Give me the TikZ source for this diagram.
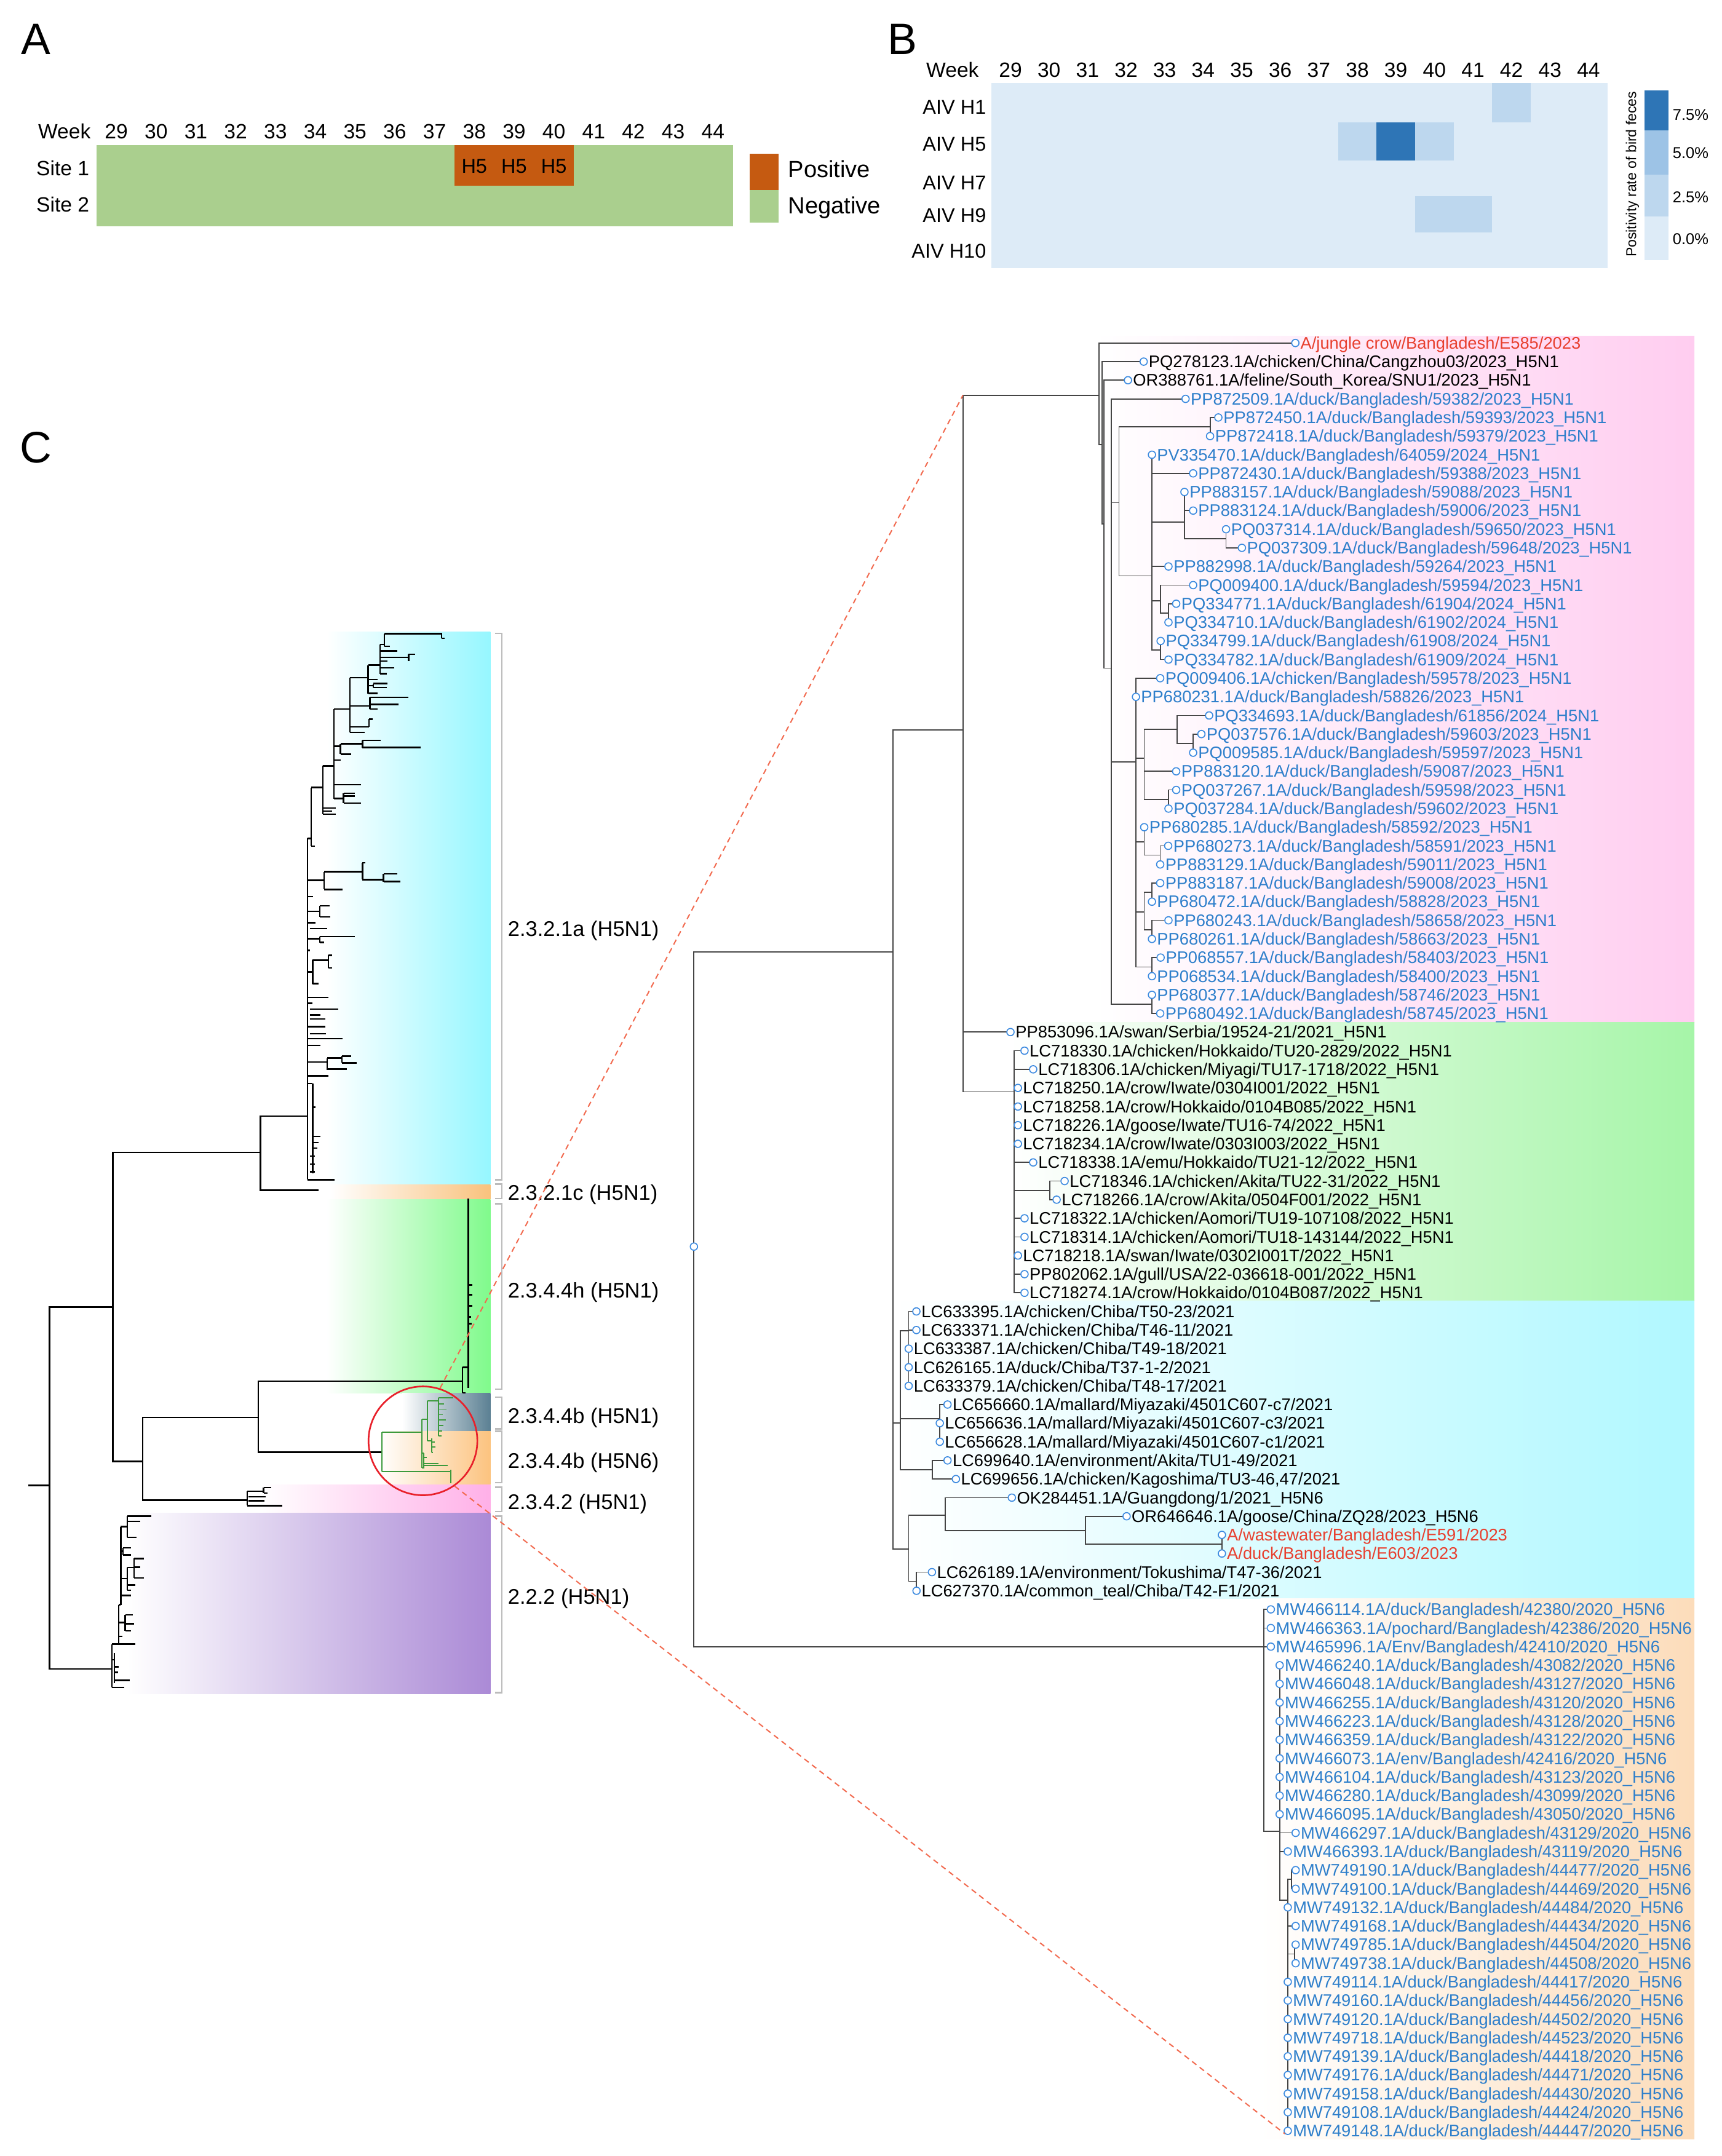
\documentclass[tikz,border=0pt]{standalone}
\usepackage{fontspec}
\setmainfont{Liberation Sans}
\usetikzlibrary{calc}
\pgfdeclarelayer{bands}
\pgfdeclarelayer{edges}
\pgfsetlayers{bands,edges,main}
\definecolor{treeg}{HTML}{454545}
\definecolor{circb}{HTML}{3D8BE0}
\definecolor{labb}{HTML}{2E7FCB}
\definecolor{labr}{HTML}{E8402F}
\definecolor{gtree}{HTML}{3C9A3C}
\definecolor{redc}{HTML}{E8202A}
\definecolor{dashc}{HTML}{F26A4F}
\definecolor{agreen}{HTML}{AACF8E}
\definecolor{aorange}{HTML}{C55A11}
\definecolor{bzero}{HTML}{DDEBF7}
\definecolor{btwo}{HTML}{BDD7EE}
\definecolor{bthree}{HTML}{9DC3E6}
\definecolor{bfour}{HTML}{2E75B6}
\definecolor{cyanL}{HTML}{96F7FF}
\definecolor{orangeL}{HTML}{F9C27D}
\definecolor{greenL}{HTML}{80FA8C}
\definecolor{slateL}{HTML}{5B8093}
\definecolor{orangeLb}{HTML}{FCC37F}
\definecolor{pinkL}{HTML}{FFB0E8}
\definecolor{purpleL}{HTML}{AB8AD6}
\definecolor{pinkR}{HTML}{FFCDF0}
\definecolor{greenR}{HTML}{A6F5A8}
\definecolor{cyanR}{HTML}{B0F8FF}
\definecolor{orangeR}{HTML}{FCDCBA}
\definecolor{brkc}{HTML}{BBBBBB}
\newcommand\labfont{\fontsize{12.2}{14}\selectfont}
\newcommand\setfs[1]{\fontsize{#1}{#1}\selectfont}
\newcommand\LF[4]{%
  \coordinate (l#1) at (#2,{249+(#1-1)*13.52});
  \node[leafc] (c#1) at (l#1) {};
  \node[#3, anchor=base west, xshift=0.5pt, yshift=-4.3pt] (t#1) at (c#1.east) {#4};}
\newcommand\ED[2]{\foreach \cc in {#2}{\draw[br] (#1) |- (\cc);}}
\newcommand\HS[3]{\draw (#1,#3) -- (#2,#3);}
\newcommand\VS[3]{\draw (#1,#2) -- (#1,#3);}
\begin{document}
\begin{tikzpicture}[x=1pt,y=-1pt,
  br/.style={draw=treeg, line width=0.8pt},
  lt/.style={draw=black, line width=1.1pt},
  gt/.style={draw=gtree, line width=0.85pt},
  leafc/.style={circle, draw=circb, fill=white, line width=0.75pt, inner sep=0pt, minimum size=5.3pt},
  bl/.style={text=labb, font=\labfont, inner sep=0pt},
  kl/.style={text=black, font=\labfont, inner sep=0pt},
  rl/.style={text=labr, font=\labfont, inner sep=0pt},
  plab/.style={font=\setfs{32}, inner sep=0pt},
  wk/.style={font=\setfs{15}, inner sep=0pt},
  lgd/.style={font=\setfs{17}, inner sep=0pt},
  pct/.style={font=\setfs{11.4}, inner sep=0pt},
  cl/.style={font=\setfs{15.4}, inner sep=0pt, anchor=base west},
  brk/.style={draw=brkc, line width=1.1pt},
  dsh/.style={draw=dashc, line width=0.9pt, dash pattern=on 4pt off 3pt}]
\useasboundingbox (0,0) rectangle (1250,1565.2);
\begin{pgfonlayer}{bands}
\fill[white] (0,0) rectangle (1250,1565.2);
% right bands
\shade[left color=white, right color=pinkR] (795,244) rectangle (1230,742);
\shade[left color=white, right color=greenR] (733,742) rectangle (1230,944.5);
\shade[left color=white, right color=cyanR] (650,944.5) rectangle (1230,1160.5);
\shade[left color=white, right color=orangeR] (915,1160.5) rectangle (1230,1553);
% left bands
\shade[left color=white, right color=cyanL] (237,458.5) rectangle (356,860);
\shade[left color=white, right color=orangeL] (240,860) rectangle (356,870.6);
\shade[left color=white, right color=greenL] (237,870.6) rectangle (356,1011.6);
\shade[left color=white, right color=slateL] (292,1011.6) rectangle (356,1039);
\shade[left color=white, right color=orangeLb] (275,1039) rectangle (356,1078);
\shade[left color=white, right color=pinkL] (190,1078) rectangle (356,1098.5);
\shade[left color=white, right color=purpleL] (92,1098.5) rectangle (356,1229.6);
\end{pgfonlayer}

% ---------------- Panel A ----------------
\node[plab] (pA) at (26,28.7) {A};
\node[wk, anchor=base east] (aweek) at (66,100.6) {Week};
\foreach \k in {0,...,15} {\pgfmathtruncatemacro\wkn{29+\k}
  \node[wk, anchor=base] (aw\k) at ({84.44+28.875*\k},100.6) {\wkn};}
\fill[agreen] (70,105.4) rectangle (532,164.4);
\fill[aorange] (329.9,105.4) rectangle (416.5,135);
\foreach \k in {9,10,11} {\node[wk, font=\setfs{14.5}, anchor=base] (ah\k) at ({84.44+28.875*\k},125.7) {H5};}
\node[wk, anchor=base east] (as1) at (65,127.4) {Site 1};
\node[wk, anchor=base east] (as2) at (65,153.6) {Site 2};
\fill[aorange] (544,111.8) rectangle (565,138);
\fill[agreen] (544,138) rectangle (565,161.4);
\node[lgd, anchor=base west] (apos) at (572,128.6) {Positive};
\node[lgd, anchor=base west] (aneg) at (572,155.1) {Negative};

% ---------------- Panel B ----------------
\node[plab] (pB) at (655,28.5) {B};
\node[wk, anchor=base east] (bweek) at (710.7,56) {Week};
\foreach \k in {0,...,15} {\pgfmathtruncatemacro\wkn{29+\k}
  \node[wk, anchor=base] (bw\k) at ({733.5+27.975*\k},56) {\wkn};}
\fill[bzero] (719.5,60.3) rectangle (1167.1,194.6);
\fill[btwo] (1083.2,60.3) rectangle (1111.2,88.9);
\fill[btwo] (971.3,88.9) rectangle (999.3,116.4);
\fill[bfour] (999.3,88.9) rectangle (1027.2,116.4);
\fill[btwo] (1027.2,88.9) rectangle (1055.2,116.4);
\fill[btwo] (1027.2,142.4) rectangle (1083.2,168.9);
\node[wk, font=\setfs{14.5}, anchor=base east] (bh1) at (716,82.6) {AIV H1};
\node[wk, font=\setfs{14.5}, anchor=base east] (bh5) at (716,109.4) {AIV H5};
\node[wk, font=\setfs{14.5}, anchor=base east] (bh7) at (716,137.6) {AIV H7};
\node[wk, font=\setfs{14.5}, anchor=base east] (bh9) at (716,161.4) {AIV H9};
\node[wk, font=\setfs{14.5}, anchor=base east] (bh10) at (716,187.5) {AIV H10};
\fill[bfour] (1193.8,65.5) rectangle (1211,94.8);
\fill[bthree] (1193.8,94.8) rectangle (1211,126.8);
\fill[btwo] (1193.8,126.8) rectangle (1211,157.3);
\fill[bzero] (1193.8,157.3) rectangle (1211,188.7);
\node[pct, anchor=base west] (p75) at (1214,87.1) {7.5\%};
\node[pct, anchor=base west] (p50) at (1214,115) {5.0\%};
\node[pct, anchor=base west] (p25) at (1214,146.9) {2.5\%};
\node[pct, anchor=base west] (p00) at (1214,177.5) {0.0\%};
\node[font=\setfs{10.3}, inner sep=0pt, rotate=90] (bleg) at (1185,126.5) {Positivity rate of bird feces};

% ---------------- Panel C ----------------
\node[plab] (pC) at (26,325) {C};

% ---- right tree leaves ----
\LF{1}{940.3}{rl}{A/jungle crow/Bangladesh/E585/2023}
\LF{2}{830.2}{kl}{PQ278123.1A/chicken/China/Cangzhou03/2023\_H5N1}
\LF{3}{818.8}{kl}{OR388761.1A/feline/South\_Korea/SNU1/2023\_H5N1}
\LF{4}{860.6}{bl}{PP872509.1A/duck/Bangladesh/59382/2023\_H5N1}
\LF{5}{884.4}{bl}{PP872450.1A/duck/Bangladesh/59393/2023\_H5N1}
\LF{6}{878.4}{bl}{PP872418.1A/duck/Bangladesh/59379/2023\_H5N1}
\LF{7}{836.2}{bl}{PV335470.1A/duck/Bangladesh/64059/2024\_H5N1}
\LF{8}{866.1}{bl}{PP872430.1A/duck/Bangladesh/59388/2023\_H5N1}
\LF{9}{859.8}{bl}{PP883157.1A/duck/Bangladesh/59088/2023\_H5N1}
\LF{10}{866.1}{bl}{PP883124.1A/duck/Bangladesh/59006/2023\_H5N1}
\LF{11}{890.0}{bl}{PQ037314.1A/duck/Bangladesh/59650/2023\_H5N1}
\LF{12}{901.5}{bl}{PQ037309.1A/duck/Bangladesh/59648/2023\_H5N1}
\LF{13}{848.2}{bl}{PP882998.1A/duck/Bangladesh/59264/2023\_H5N1}
\LF{14}{866.1}{bl}{PQ009400.1A/duck/Bangladesh/59594/2023\_H5N1}
\LF{15}{853.8}{bl}{PQ334771.1A/duck/Bangladesh/61904/2024\_H5N1}
\LF{16}{848.2}{bl}{PQ334710.1A/duck/Bangladesh/61902/2024\_H5N1}
\LF{17}{842.5}{bl}{PQ334799.1A/duck/Bangladesh/61908/2024\_H5N1}
\LF{18}{848.2}{bl}{PQ334782.1A/duck/Bangladesh/61909/2024\_H5N1}
\LF{19}{842.2}{bl}{PQ009406.1A/chicken/Bangladesh/59578/2023\_H5N1}
\LF{20}{824.6}{bl}{PP680231.1A/duck/Bangladesh/58826/2023\_H5N1}
\LF{21}{877.7}{bl}{PQ334693.1A/duck/Bangladesh/61856/2024\_H5N1}
\LF{22}{872.1}{bl}{PQ037576.1A/duck/Bangladesh/59603/2023\_H5N1}
\LF{23}{866.1}{bl}{PQ009585.1A/duck/Bangladesh/59597/2023\_H5N1}
\LF{24}{853.8}{bl}{PP883120.1A/duck/Bangladesh/59087/2023\_H5N1}
\LF{25}{853.8}{bl}{PQ037267.1A/duck/Bangladesh/59598/2023\_H5N1}
\LF{26}{848.2}{bl}{PQ037284.1A/duck/Bangladesh/59602/2023\_H5N1}
\LF{27}{830.6}{bl}{PP680285.1A/duck/Bangladesh/58592/2023\_H5N1}
\LF{28}{848.0}{bl}{PP680273.1A/duck/Bangladesh/58591/2023\_H5N1}
\LF{29}{842.2}{bl}{PP883129.1A/duck/Bangladesh/59011/2023\_H5N1}
\LF{30}{842.2}{bl}{PP883187.1A/duck/Bangladesh/59008/2023\_H5N1}
\LF{31}{836.2}{bl}{PP680472.1A/duck/Bangladesh/58828/2023\_H5N1}
\LF{32}{848.2}{bl}{PP680243.1A/duck/Bangladesh/58658/2023\_H5N1}
\LF{33}{836.2}{bl}{PP680261.1A/duck/Bangladesh/58663/2023\_H5N1}
\LF{34}{842.5}{bl}{PP068557.1A/duck/Bangladesh/58403/2023\_H5N1}
\LF{35}{836.2}{bl}{PP068534.1A/duck/Bangladesh/58400/2023\_H5N1}
\LF{36}{836.2}{bl}{PP680377.1A/duck/Bangladesh/58746/2023\_H5N1}
\LF{37}{842.2}{bl}{PP680492.1A/duck/Bangladesh/58745/2023\_H5N1}
\LF{38}{733.5}{kl}{PP853096.1A/swan/Serbia/19524-21/2021\_H5N1}
\LF{39}{743.7}{kl}{LC718330.1A/chicken/Hokkaido/TU20-2829/2022\_H5N1}
\LF{40}{750.0}{kl}{LC718306.1A/chicken/Miyagi/TU17-1718/2022\_H5N1}
\LF{41}{738.9}{kl}{LC718250.1A/crow/Iwate/0304I001/2022\_H5N1}
\LF{42}{738.9}{kl}{LC718258.1A/crow/Hokkaido/0104B085/2022\_H5N1}
\LF{43}{738.9}{kl}{LC718226.1A/goose/Iwate/TU16-74/2022\_H5N1}
\LF{44}{738.9}{kl}{LC718234.1A/crow/Iwate/0303I003/2022\_H5N1}
\LF{45}{750.0}{kl}{LC718338.1A/emu/Hokkaido/TU21-12/2022\_H5N1}
\LF{46}{772.8}{kl}{LC718346.1A/chicken/Akita/TU22-31/2022\_H5N1}
\LF{47}{767.0}{kl}{LC718266.1A/crow/Akita/0504F001/2022\_H5N1}
\LF{48}{743.7}{kl}{LC718322.1A/chicken/Aomori/TU19-107108/2022\_H5N1}
\LF{49}{743.7}{kl}{LC718314.1A/chicken/Aomori/TU18-143144/2022\_H5N1}
\LF{50}{738.9}{kl}{LC718218.1A/swan/Iwate/0302I001T/2022\_H5N1}
\LF{51}{743.7}{kl}{PP802062.1A/gull/USA/22-036618-001/2022\_H5N1}
\LF{52}{743.7}{kl}{LC718274.1A/crow/Hokkaido/0104B087/2022\_H5N1}
\LF{53}{665.2}{kl}{LC633395.1A/chicken/Chiba/T50-23/2021}
\LF{54}{665.2}{kl}{LC633371.1A/chicken/Chiba/T46-11/2021}
\LF{55}{659.6}{kl}{LC633387.1A/chicken/Chiba/T49-18/2021}
\LF{56}{659.6}{kl}{LC626165.1A/duck/Chiba/T37-1-2/2021}
\LF{57}{659.6}{kl}{LC633379.1A/chicken/Chiba/T48-17/2021}
\LF{58}{687.8}{kl}{LC656660.1A/mallard/Miyazaki/4501C607-c7/2021}
\LF{59}{682.2}{kl}{LC656636.1A/mallard/Miyazaki/4501C607-c3/2021}
\LF{60}{682.2}{kl}{LC656628.1A/mallard/Miyazaki/4501C607-c1/2021}
\LF{61}{687.8}{kl}{LC699640.1A/environment/Akita/TU1-49/2021}
\LF{62}{693.9}{kl}{LC699656.1A/chicken/Kagoshima/TU3-46,47/2021}
\LF{63}{734.5}{kl}{OK284451.1A/Guangdong/1/2021\_H5N6}
\LF{64}{817.8}{kl}{OR646646.1A/goose/China/ZQ28/2023\_H5N6}
\LF{65}{887.0}{rl}{A/wastewater/Bangladesh/E591/2023}
\LF{66}{887.0}{rl}{A/duck/Bangladesh/E603/2023}
\LF{67}{676.5}{kl}{LC626189.1A/environment/Tokushima/T47-36/2021}
\LF{68}{665.3}{kl}{LC627370.1A/common\_teal/Chiba/T42-F1/2021}
\LF{69}{922.5}{bl}{MW466114.1A/duck/Bangladesh/42380/2020\_H5N6}
\LF{70}{922.5}{bl}{MW466363.1A/pochard/Bangladesh/42386/2020\_H5N6}
\LF{71}{922.5}{bl}{MW465996.1A/Env/Bangladesh/42410/2020\_H5N6}
\LF{72}{928.9}{bl}{MW466240.1A/duck/Bangladesh/43082/2020\_H5N6}
\LF{73}{928.9}{bl}{MW466048.1A/duck/Bangladesh/43127/2020\_H5N6}
\LF{74}{928.9}{bl}{MW466255.1A/duck/Bangladesh/43120/2020\_H5N6}
\LF{75}{928.9}{bl}{MW466223.1A/duck/Bangladesh/43128/2020\_H5N6}
\LF{76}{928.9}{bl}{MW466359.1A/duck/Bangladesh/43122/2020\_H5N6}
\LF{77}{928.9}{bl}{MW466073.1A/env/Bangladesh/42416/2020\_H5N6}
\LF{78}{928.9}{bl}{MW466104.1A/duck/Bangladesh/43123/2020\_H5N6}
\LF{79}{928.9}{bl}{MW466280.1A/duck/Bangladesh/43099/2020\_H5N6}
\LF{80}{928.9}{bl}{MW466095.1A/duck/Bangladesh/43050/2020\_H5N6}
\LF{81}{940.5}{bl}{MW466297.1A/duck/Bangladesh/43129/2020\_H5N6}
\LF{82}{934.8}{bl}{MW466393.1A/duck/Bangladesh/43119/2020\_H5N6}
\LF{83}{940.5}{bl}{MW749190.1A/duck/Bangladesh/44477/2020\_H5N6}
\LF{84}{940.5}{bl}{MW749100.1A/duck/Bangladesh/44469/2020\_H5N6}
\LF{85}{934.8}{bl}{MW749132.1A/duck/Bangladesh/44484/2020\_H5N6}
\LF{86}{940.5}{bl}{MW749168.1A/duck/Bangladesh/44434/2020\_H5N6}
\LF{87}{940.5}{bl}{MW749785.1A/duck/Bangladesh/44504/2020\_H5N6}
\LF{88}{940.5}{bl}{MW749738.1A/duck/Bangladesh/44508/2020\_H5N6}
\LF{89}{934.8}{bl}{MW749114.1A/duck/Bangladesh/44417/2020\_H5N6}
\LF{90}{934.8}{bl}{MW749160.1A/duck/Bangladesh/44456/2020\_H5N6}
\LF{91}{934.8}{bl}{MW749120.1A/duck/Bangladesh/44502/2020\_H5N6}
\LF{92}{934.8}{bl}{MW749718.1A/duck/Bangladesh/44523/2020\_H5N6}
\LF{93}{934.8}{bl}{MW749139.1A/duck/Bangladesh/44418/2020\_H5N6}
\LF{94}{934.8}{bl}{MW749176.1A/duck/Bangladesh/44471/2020\_H5N6}
\LF{95}{934.8}{bl}{MW749158.1A/duck/Bangladesh/44430/2020\_H5N6}
\LF{96}{934.8}{bl}{MW749108.1A/duck/Bangladesh/44424/2020\_H5N6}
\LF{97}{934.8}{bl}{MW749148.1A/duck/Bangladesh/44447/2020\_H5N6}

% ---- right tree internal nodes ----
\coordinate (R0) at (503.7,905);
\coordinate (M1) at (648.3,691);
\coordinate (N1) at (699,529.8);
\coordinate (P0) at (797.8,286.9);
\coordinate (P1) at (800,322.8);
\coordinate (P1b) at (801.5,380.5);
\coordinate (P2) at (806.8,485);
\coordinate (Q) at (812.3,365);
\coordinate (Q1) at (878.4,309.9);
\coordinate (Q2) at (836.2,418.1);
\coordinate (S1) at (859.8,379);
\coordinate (S1a) at (890,391);
\coordinate (S2) at (842.5,436);
\coordinate (S2a) at (848.2,445);
\coordinate (S3) at (842.5,472);
\coordinate (Rn) at (824.6,553);
\coordinate (R1) at (830.6,550.6);
\coordinate (R1a) at (854.4,529.5);
\coordinate (R1b) at (866.1,539.7);
\coordinate (R1c) at (848.2,580.3);
\coordinate (R2) at (830.6,611);
\coordinate (R2a) at (842.2,620.8);
\coordinate (R3) at (830.6,662);
\coordinate (R3a) at (836.2,647.9);
\coordinate (R3b) at (836.2,674.9);
\coordinate (R4) at (836.2,702);
\coordinate (Tn) at (836.2,729);
\coordinate (G0) at (736,792.6);
\coordinate (G1) at (762.1,864.2);
\coordinate (C1) at (653.5,1033.2);
\coordinate (CH) at (659.6,966);
\coordinate (L66) at (682.2,1030);
\coordinate (L69) at (676.7,1067);
\coordinate (C2) at (659.6,1124.4);
\coordinate (E1) at (686.1,1100);
\coordinate (E2) at (665.3,1148);
\coordinate (E3) at (787.8,1111.1);
\coordinate (E4) at (887,1121);
\coordinate (H0) at (917.4,1195.5);
\coordinate (H1) at (928.9,1329.5);
\coordinate (H2) at (934.8,1379.5);
\coordinate (H2a) at (937.4,1364.4);
\coordinate (H2b) at (939.9,1418.5);
\node[leafc] (rootc) at (R0) {};

% ---- left tree coordinates ----
\coordinate (LS) at (20.7,1078.3);
\coordinate (LR) at (36,1078.3);
\coordinate (LA) at (82,948.9);
\coordinate (LF) at (81.3,1211.6);
\coordinate (LB) at (189.1,836.5);
\coordinate (LB1) at (223.2,810.3);
\coordinate (LBc) at (231.2,864.1);
\coordinate (LC) at (103.6,1060.9);
\coordinate (LD) at (187.5,1028.9);
\coordinate (LE) at (179.5,1089.1);
\coordinate (LH) at (335.6,1002.7);
\coordinate (LG) at (277.2,1054.3);

\begin{pgfonlayer}{edges}
\ED{R0}{M1,H0}
\ED{M1}{N1,C1,C2}
\ED{N1}{P0,l38,G0}
\ED{P0}{l1,P1}
\ED{P1}{l2,P1b}
\ED{P1b}{l3,P2}
\ED{P2}{l4,Q,Rn,Tn}
\ED{Q}{Q1,Q2}
\ED{Q1}{l5,l6}
\ED{Q2}{l7,l8,S1,l13,S2,S3}
\ED{S1}{l9,l10,S1a}
\ED{S1a}{l11,l12}
\ED{S2}{l14,S2a}
\ED{S2a}{l15,l16}
\ED{S3}{l17,l18}
\ED{Rn}{l19,l20,R1,R2,R3,R4}
\ED{R1}{R1a,l24,R1c}
\ED{R1a}{l21,R1b}
\ED{R1b}{l22,l23}
\ED{R1c}{l25,l26}
\ED{R2}{l27,R2a}
\ED{R2a}{l28,l29}
\ED{R3}{R3a,R3b}
\ED{R3a}{l30,l31}
\ED{R3b}{l32,l33}
\ED{R4}{l34,l35}
\ED{Tn}{l36,l37}
\ED{G0}{l39,l40,l41,l42,l43,l44,l45,G1,l48,l49,l50,l51,l52}
\ED{G1}{l46,l47}
\ED{C1}{CH,L66,L69}
\ED{CH}{l53,l54,l55,l56,l57}
\ED{L66}{l58,l59,l60}
\ED{L69}{l61,l62}
\ED{C2}{E1,E2}
\ED{E1}{l63,E3}
\ED{E3}{l64,E4}
\ED{E4}{l65,l66}
\ED{E2}{l67,l68}
\ED{H0}{l69,l70,l71,H1}
\ED{H1}{l72,l73,l74,l75,l76,l77,l78,l79,l80,l81,l82,H2}
\ED{H2}{H2a,l85,l86,H2b,l89,l90,l91,l92,l93,l94,l95,l96,l97}
\ED{H2a}{l83,l84}
\ED{H2b}{l87,l88}
% ---- left tree backbone ----
\begin{scope}[lt]
\draw (LS) -- (LR);
\draw (LR) |- (LA); \draw (LR) |- (LF);
\draw (LA) |- (LB); \draw (LA) |- (LC);
\draw (LB) |- (LB1); \draw (LB) |- (LBc);
\draw (LC) |- (LD); \draw (LC) |- (LE);
\draw (LD) |- (LH); \draw (LD) |- (LG);
% 2.3.2.1a
\VS{223.2}{608.7}{856.4}
\HS{223.2}{225.8}{608.7}
\VS{225.8}{571.7}{614.4}
\HS{225.8}{234.4}{571.7}
\HS{225.8}{228.5}{614.4}
\VS{234.4}{556.0}{591.1}
\HS{234.4}{242.3}{556.0}
\HS{234.4}{243.9}{586.5}
\HS{234.4}{241.0}{588.8}
\HS{234.4}{243.9}{591.1}
\VS{242.3}{514.8}{579.7}
\HS{242.3}{254.1}{514.8}
\HS{242.3}{262.1}{569.7}
\HS{242.3}{247.1}{541.8}
\VS{247.1}{540.0}{547.5}
\HS{247.1}{263.1}{540.0}
\VS{263.1}{537.5}{542.7}
\HS{263.1}{276.5}{537.5}
\HS{263.1}{305.5}{542.7}
\HS{247.1}{255.1}{547.5}
\HS{242.3}{247.1}{551.8}
\HS{242.3}{249.4}{579.7}
\VS{249.4}{576.0}{583.1}
\HS{249.4}{257.7}{576.0}
\HS{249.4}{257.7}{578.0}
\HS{249.4}{262.1}{583.1}
\VS{254.1}{492.0}{531.8}
\HS{254.1}{264.7}{531.8}
\HS{254.1}{267.9}{527.6}
\VS{267.9}{522.0}{527.6}
\HS{267.9}{270.5}{522.0}
\HS{254.1}{268.5}{512.5}
\VS{268.5}{506.2}{514.8}
\HS{268.5}{296.6}{506.2}
\HS{268.5}{289.5}{511.3}
\HS{268.5}{274.2}{514.8}
\HS{254.1}{267.2}{492.0}
\VS{267.2}{482.9}{503.4}
\HS{267.2}{275.8}{482.9}
\HS{267.2}{274.2}{493.4}
\HS{267.2}{271.0}{497.7}
\VS{271.0}{496.3}{499.1}
\HS{271.0}{281.3}{496.3}
\HS{271.0}{280.6}{499.1}
\HS{267.2}{274.2}{503.4}
\VS{275.8}{467.8}{489.1}
\HS{275.8}{279.0}{467.8}
\VS{279.0}{460.1}{469.2}
\HS{279.0}{320.5}{460.1}
\VS{320.5}{459.5}{463.5}
\HS{320.5}{322.7}{463.5}
\HS{279.0}{283.0}{469.2}
\HS{275.8}{288.6}{472.6}
\HS{275.8}{296.6}{477.2}
\VS{296.6}{474.9}{480.0}
\HS{296.6}{301.3}{474.9}
\HS{275.8}{281.3}{480.0}
\HS{275.8}{286.0}{484.9}
\HS{275.8}{280.6}{489.1}
\HS{223.2}{235.3}{639.0}
\VS{235.3}{632.9}{645.7}
\HS{235.3}{263.1}{632.9}
\VS{263.1}{626.4}{638.6}
\HS{263.1}{265.0}{626.4}
\HS{263.1}{278.4}{638.6}
\VS{278.4}{634.3}{640.0}
\HS{278.4}{288.6}{634.3}
\HS{278.4}{290.8}{640.0}
\HS{235.3}{248.7}{645.7}
\HS{223.2}{227.4}{650.9}
\HS{223.2}{232.1}{661.5}
\VS{232.1}{657.7}{665.7}
\HS{232.1}{239.2}{657.7}
\HS{232.1}{239.8}{665.7}
\HS{223.2}{229.0}{669.9}
\HS{224.8}{237.6}{674.2}
\HS{223.2}{232.1}{681.5}
\VS{232.1}{679.9}{684.2}
\HS{232.1}{257.7}{679.9}
\HS{232.1}{235.3}{684.2}
\HS{223.2}{224.8}{689.9}
\HS{223.2}{227.0}{705.5}
\VS{227.0}{697.0}{714.1}
\HS{227.0}{238.5}{697.0}
\VS{238.5}{693.5}{702.7}
\HS{238.5}{241.0}{693.5}
\HS{238.5}{241.0}{702.7}
\HS{227.0}{231.2}{714.1}
\HS{223.2}{238.5}{724.0}
\HS{223.2}{227.0}{728.3}
\HS{224.8}{245.5}{732.6}
\HS{224.8}{232.8}{736.8}
\HS{224.8}{236.0}{739.7}
\HS{223.2}{236.0}{745.4}
\HS{224.8}{236.6}{750.5}
\HS{223.2}{248.7}{753.9}
\HS{223.2}{232.8}{759.0}
\HS{223.2}{237.6}{771.0}
\VS{237.6}{768.1}{776.7}
\HS{237.6}{248.1}{768.1}
\VS{248.1}{766.7}{771.6}
\HS{248.1}{255.1}{766.7}
\HS{248.1}{258.9}{771.6}
\HS{237.6}{251.9}{776.1}
\HS{223.2}{238.2}{781.0}
\HS{223.2}{227.0}{786.7}
\VS{227.0}{786.7}{852.0}
\HS{227.0}{229.0}{803.7}
\HS{227.0}{232.8}{825.1}
\HS{227.0}{231.2}{829.4}
\HS{227.0}{230.2}{833.6}
\HS{225.0}{228.5}{839.3}
\HS{225.0}{228.5}{845.0}
\HS{225.0}{228.5}{850.7}
\HS{223.2}{243.0}{856.4}
% 2.3.4.4h
\VS{335.6}{992.6}{1011.2}
\HS{335.6}{340.0}{992.6}
\VS{340.0}{870.0}{1007.4}
\HS{335.6}{338.0}{1011.2}
\HS{340.0}{343.0}{932.8}
\HS{340.0}{342.8}{940.0}
\HS{340.0}{343.0}{948.0}
\HS{340.0}{342.0}{956.0}
\HS{340.0}{342.5}{961.0}
% 2.3.4.2
\VS{179.5}{1082.7}{1093.0}
\HS{179.5}{191.3}{1082.7}
\VS{191.3}{1080.0}{1084.0}
\HS{191.3}{196.7}{1080.0}
\HS{191.3}{194.0}{1084.0}
\HS{180.5}{193.0}{1086.5}
\HS{180.5}{192.0}{1089.5}
\HS{179.5}{204.7}{1093.0}
% 2.2.2
\VS{81.3}{1193.6}{1224.9}
\HS{81.3}{98.2}{1193.6}
\HS{81.3}{90.2}{1224.9}
\HS{81.3}{83.0}{1205.0}
\VS{83.0}{1200.0}{1222.0}
\HS{83.0}{94.1}{1219.8}
\HS{83.0}{86.0}{1210.0}
\HS{83.0}{85.5}{1214.0}
\VS{86.1}{1165.0}{1193.6}
\HS{86.1}{87.7}{1165.0}
\VS{87.7}{1108.3}{1165.0}
\HS{87.7}{92.5}{1108.3}
\VS{92.5}{1100.6}{1116.0}
\HS{92.5}{110.0}{1100.6}
\HS{92.5}{102.0}{1104.5}
\HS{92.5}{98.9}{1116.0}
\HS{87.7}{89.3}{1126.2}
\VS{89.3}{1123.7}{1128.8}
\HS{89.3}{95.0}{1123.7}
\HS{89.3}{95.0}{1128.8}
\HS{87.7}{92.5}{1146.0}
\VS{92.5}{1138.0}{1154.4}
\HS{92.5}{97.3}{1138.0}
\VS{97.3}{1131.4}{1145.5}
\HS{97.3}{104.6}{1131.4}
\HS{97.3}{102.0}{1137.8}
\HS{97.3}{104.6}{1145.5}
\HS{92.5}{98.0}{1150.6}
\HS{92.5}{95.0}{1154.4}
\HS{87.7}{95.0}{1158.3}
\HS{86.1}{90.9}{1178.0}
\VS{90.9}{1172.4}{1183.9}
\HS{90.9}{96.6}{1172.4}
\HS{90.9}{97.3}{1178.8}
\HS{90.9}{95.0}{1183.9}
\HS{86.1}{89.0}{1188.0}
\end{scope}
% green 2.3.4.4b minitree
\begin{scope}[gt]
\VS{277.2}{1039.9}{1068.5}
\HS{277.2}{306.3}{1039.9}
\VS{306.3}{1030.5}{1065.5}
\HS{306.3}{310.3}{1030.5}
\VS{310.3}{1017.1}{1046.1}
\HS{310.3}{318.2}{1017.1}
\VS{318.2}{1014.9}{1042.4}
\HS{318.2}{328.9}{1014.9}
\HS{318.2}{322.5}{1019.0}
\HS{318.2}{324.0}{1023.0}
\HS{318.2}{321.5}{1027.0}
\HS{318.2}{323.5}{1031.0}
\HS{318.2}{322.0}{1035.0}
\HS{318.2}{321.0}{1039.0}
\HS{318.2}{320.5}{1042.4}
\HS{310.3}{313.2}{1046.1}
\VS{313.2}{1044.0}{1054.3}
\HS{313.2}{315.5}{1047.0}
\HS{313.2}{316.0}{1050.5}
\HS{313.2}{314.5}{1054.3}
\HS{306.3}{307.5}{1055.0}
\VS{307.5}{1055.0}{1066.0}
\HS{307.5}{325.1}{1064.0}
\HS{307.5}{318.5}{1062.4}
\HS{307.5}{310.0}{1058.0}
\HS{306.3}{308.0}{1065.5}
\HS{277.2}{327.4}{1068.5}
\VS{327.4}{1067.0}{1076.6}
\end{scope}
\end{pgfonlayer}

% ---- brackets and clade labels ----
\draw[brk] (359.3,459.8) -- (364.3,459.8) -- (364.3,856.4) -- (359.3,856.4);
\draw[brk] (359.3,859.7) -- (364.3,859.7) -- (364.3,870) -- (359.3,870);
\draw[brk] (359.3,873.8) -- (364.3,873.8) -- (364.3,1008.4) -- (359.3,1008.4);
\draw[brk] (359.3,1014.3) -- (364.3,1014.3) -- (364.3,1037.3) -- (359.3,1037.3);
\draw[brk] (359.3,1039.1) -- (364.3,1039.1) -- (364.3,1076.3) -- (359.3,1076.3);
\draw[brk] (359.3,1079.6) -- (364.3,1079.6) -- (364.3,1097.3) -- (359.3,1097.3);
\draw[brk] (359.3,1100.6) -- (364.3,1100.6) -- (364.3,1228.7) -- (359.3,1228.7);
\node[cl] (k1) at (368.5,679.7) {2.3.2.1a (H5N1)};
\node[cl] (k2) at (368.5,871.1) {2.3.2.1c (H5N1)};
\node[cl] (k3) at (368.5,942.1) {2.3.4.4h (H5N1)};
\node[cl] (k4) at (368.5,1033.1) {2.3.4.4b (H5N1)};
\node[cl] (k5) at (368.5,1065.9) {2.3.4.4b (H5N6)};
\node[cl] (k6) at (368.5,1095.9) {2.3.4.2 (H5N1)};
\node[cl] (k7) at (368.5,1164.5) {2.2.2 (H5N1)};

% ---- zoom circle and dashed guides ----
\node[circle, draw=redc, line width=1.2pt, minimum size=79pt, inner sep=0pt] (RC) at (307,1046) {};
\draw[dsh] (RC.72) -- (N1 |- P0);
\draw[dsh] (RC.-55) -- (c97.south west);
\end{tikzpicture}
\end{document}
